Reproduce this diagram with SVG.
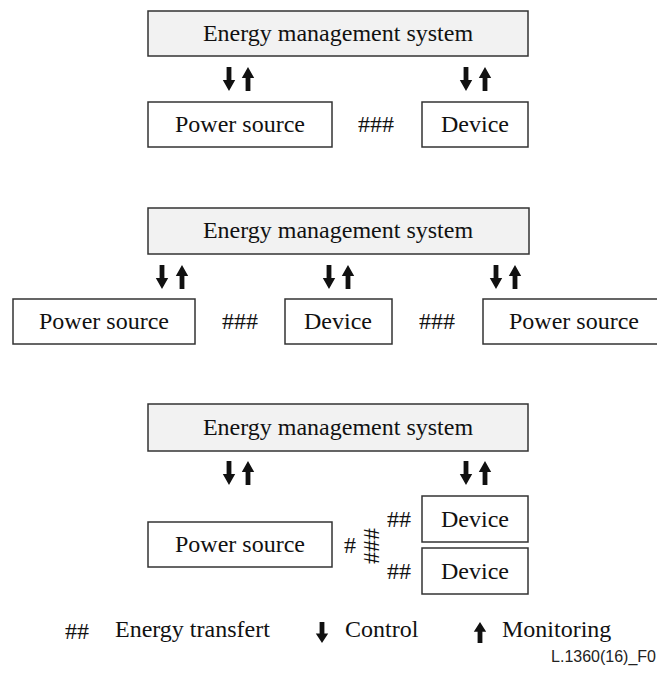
<svg xmlns="http://www.w3.org/2000/svg" width="657" height="677" viewBox="0 0 657 677">
  <style>
    .t { font-size: 24px; fill: #111; }
    .mid { text-anchor: middle; }
    .ems rect { fill: #f2f2f2; stroke: #333; stroke-width: 1.5; }
    .box rect { fill: #fff; stroke: #333; stroke-width: 1.5; }
    .arr { fill: #111; }
    .ref { font-size: 16px; fill: #222; text-anchor: end; }
  </style>
  <defs>
    <!-- control (down) and monitoring (up) arrows, 24 px long, origin at top centre -->
    <path id="down" class="arr" d="M-2.4,0 H2.4 V13 H6.2 L0,24 L-6.2,13 H-2.4 Z"/>
    <path id="up" class="arr" d="M-2.4,24 H2.4 V11 H6.2 L0,0 L-6.2,11 H-2.4 Z"/>
  </defs>

  <rect width="657" height="677" fill="#fff"/>

  <g class="t" font-family="Liberation Serif, Times New Roman, serif">
  <!-- configuration 1 -->
  <g id="ems1" class="ems"><rect x="148" y="11" width="380" height="45"/><text class="mid" x="338" y="41">Energy management system</text></g>
  <g id="ps1" class="box"><rect x="148" y="102" width="184" height="45"/><text class="mid" x="240" y="132">Power source</text></g>
  <g id="dev1" class="box"><rect x="422" y="102" width="106" height="45"/><text class="mid" x="475" y="132">Device</text></g>

  <!-- configuration 2 -->
  <g id="ems2" class="ems"><rect x="148" y="208" width="381" height="46"/><text class="mid" x="338" y="238">Energy management system</text></g>
  <g id="ps2a" class="box"><rect x="13" y="299" width="182" height="45"/><text class="mid" x="104" y="329">Power source</text></g>
  <g id="dev2" class="box"><rect x="285" y="299" width="107" height="45"/><text class="mid" x="338" y="329">Device</text></g>
  <g id="ps2b" class="box"><rect x="483" y="299" width="182" height="45"/><text class="mid" x="574" y="329">Power source</text></g>

  <!-- configuration 3 -->
  <g id="ems3" class="ems"><rect x="148" y="404" width="380" height="47"/><text class="mid" x="338" y="435">Energy management system</text></g>
  <g id="ps3" class="box"><rect x="148" y="522" width="184" height="45"/><text class="mid" x="240" y="552">Power source</text></g>
  <g id="dev3a" class="box"><rect x="422" y="496" width="106" height="46"/><text class="mid" x="475" y="527">Device</text></g>
  <g id="dev3b" class="box"><rect x="422" y="548" width="106" height="46"/><text class="mid" x="475" y="579">Device</text></g>

  <!-- control / monitoring arrows and energy transfer marks -->
  <g id="connectors">
    <use href="#down" x="229" y="67"/><use href="#up" x="248" y="67"/>
    <use href="#down" x="466" y="67"/><use href="#up" x="485" y="67"/>
    <text class="mid" x="376" y="132">###</text>

    <use href="#down" x="162" y="265"/><use href="#up" x="182" y="265"/>
    <use href="#down" x="329" y="265"/><use href="#up" x="348" y="265"/>
    <use href="#down" x="496" y="265"/><use href="#up" x="515" y="265"/>
    <text class="mid" x="240" y="329">###</text>
    <text class="mid" x="437" y="329">###</text>

    <use href="#down" x="229" y="461"/><use href="#up" x="248" y="461"/>
    <use href="#down" x="466" y="461"/><use href="#up" x="485" y="461"/>
    <text class="mid" x="350" y="553">#</text>
    <text class="mid" transform="translate(372,546) rotate(90)" x="0" y="8">###</text>
    <text class="mid" x="399" y="527">##</text>
    <text class="mid" x="399" y="579">##</text>
  </g>

  <!-- legend -->
  <g id="legend">
    <text class="mid" x="77" y="639">##</text>
    <text x="115" y="637">Energy transfert</text>
    <use href="#down" transform="translate(322,622) scale(1,0.88)"/>
    <text x="345" y="637">Control</text>
    <use href="#up" transform="translate(480,622) scale(1,0.88)"/>
    <text x="502" y="637">Monitoring</text>
  </g>
  </g>

  <text class="ref" font-family="Liberation Sans, Arial, sans-serif" x="656" y="662">L.1360(16)_F0</text>
</svg>
